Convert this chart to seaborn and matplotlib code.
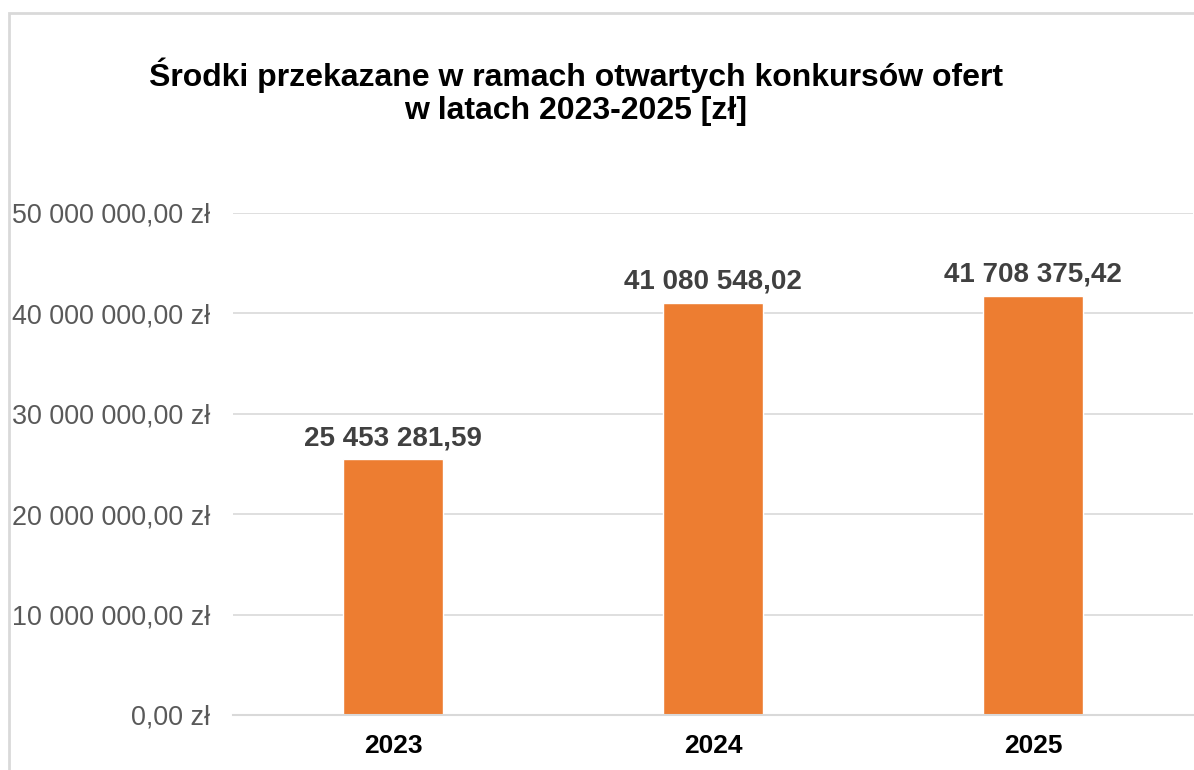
import matplotlib
matplotlib.use("Agg")
import matplotlib.pyplot as plt
import seaborn as sns
import pandas as pd
from matplotlib.patches import Rectangle

years = ["2023", "2024", "2025"]
values = [25453281.59, 41080548.02, 41708375.42]
yticks = [0, 10000000, 20000000, 30000000, 40000000, 50000000]
title_text = "Środki przekazane w ramach otwartych konkursów ofert\nw latach 2023-2025 [zł]"

def pl_num(v, dec=2):
    s = f"{v:,.{dec}f}"
    return s.replace(",", " ").replace(".", ",")

sns.set_theme(style="white")
plt.rcParams["font.family"] = ["Liberation Sans", "DejaVu Sans"]

W, H = 1194, 770
fig = plt.figure(figsize=(W / 100, H / 100), dpi=100)
ax = fig.add_axes([233 / W, (H - 715) / H, 960 / W, (715 - 213) / H])

df = pd.DataFrame({"year": years, "value": values})
sns.barplot(data=df, x="year", y="value", color="#ED7D31", saturation=1,
            width=0.3125, ax=ax, zorder=3)

ax.set_xlim(-0.5, 2.5)
ax.set_ylim(0, 50000000)
ax.set_yticks(yticks)
ax.set_yticklabels([pl_num(t) + " zł" for t in yticks], color="#595959", fontsize=19.4)
ax.tick_params(axis="y", length=0, pad=16.5)
ax.tick_params(axis="x", length=0, pad=14)
for lab in ax.get_xticklabels():
    lab.set_fontweight("bold")
    lab.set_fontsize(19)
    lab.set_color("black")
ax.set_xlabel("")
ax.set_ylabel("")
ax.yaxis.grid(True, color="#d9d9d9", linewidth=1.2, zorder=0)
ax.set_axisbelow(True)
for s in ["top", "right", "left"]:
    ax.spines[s].set_visible(False)
ax.spines["bottom"].set_color("#d9d9d9")
ax.spines["bottom"].set_linewidth(1.5)
ax.spines["bottom"].set_zorder(4)

for i, v in enumerate(values):
    ax.annotate(pl_num(v), (i, v), xytext=(0, 6), textcoords="offset points",
                ha="center", va="bottom", fontsize=20, fontweight="bold",
                color="#404040")

fig.text(576 / W, (H - 92) / H, title_text, ha="center", va="center",
         fontsize=23, fontweight="bold", color="black", linespacing=1.15)

fig.patches.append(Rectangle((9 / W, -0.1), 1.2, (H - 13) / H + 0.1,
                             transform=fig.transFigure, fill=False,
                             edgecolor="#d9d9d9", linewidth=2))

fig.savefig("out.png", dpi=100, facecolor="white")
